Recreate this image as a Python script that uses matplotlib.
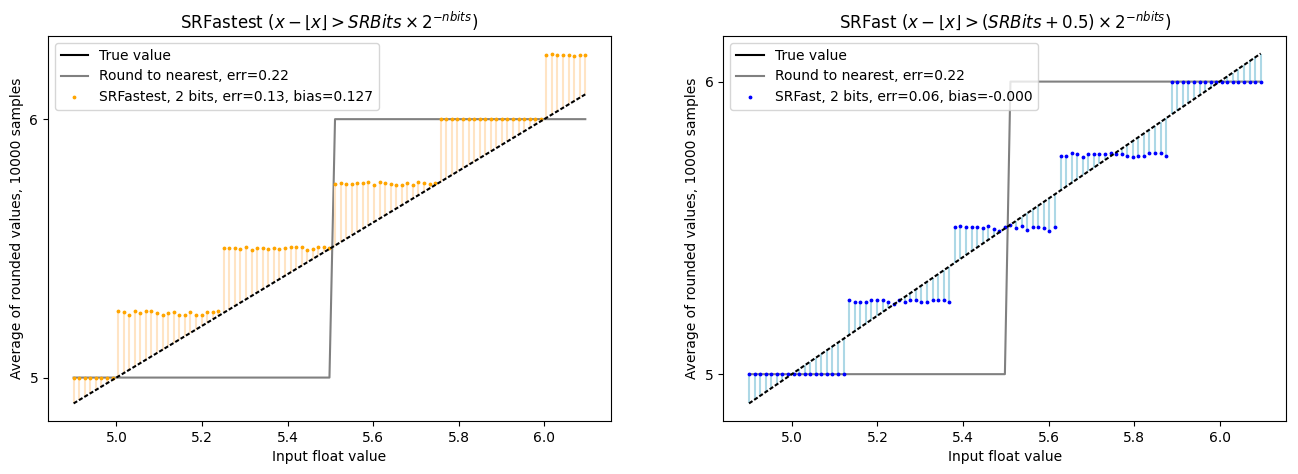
import matplotlib.pyplot as plt
from matplotlib.lines import Line2D

# input grid
x = [4.900, 4.913, 4.926, 4.939, 4.952, 4.965, 4.978, 4.991, 5.004, 5.017,
     5.030, 5.043, 5.056, 5.069, 5.082, 5.095, 5.108, 5.121, 5.134, 5.147,
     5.160, 5.173, 5.186, 5.199, 5.212, 5.225, 5.238, 5.251, 5.264, 5.277,
     5.290, 5.303, 5.316, 5.329, 5.342, 5.355, 5.368, 5.381, 5.394, 5.407,
     5.420, 5.433, 5.446, 5.459, 5.472, 5.485, 5.498, 5.511, 5.524, 5.537,
     5.550, 5.563, 5.576, 5.589, 5.602, 5.615, 5.628, 5.641, 5.654, 5.667,
     5.680, 5.693, 5.706, 5.719, 5.732, 5.745, 5.758, 5.771, 5.784, 5.797,
     5.810, 5.823, 5.836, 5.849, 5.862, 5.875, 5.888, 5.901, 5.914, 5.927,
     5.940, 5.953, 5.966, 5.979, 5.992, 6.005, 6.018, 6.031, 6.044, 6.057,
     6.070, 6.083, 6.096]

nearest = [5] * 47 + [6] * 46

sr_fastest = ([5.0] * 8 +
              [5.256, 5.252, 5.244, 5.256, 5.248, 5.256, 5.256, 5.248, 5.244, 5.248,
               5.252, 5.244, 5.244, 5.252, 5.244, 5.244, 5.252, 5.252, 5.256] +
              [5.500, 5.500, 5.500, 5.496, 5.505, 5.492, 5.500, 5.500, 5.496, 5.500,
               5.496, 5.500, 5.505, 5.505, 5.505, 5.492, 5.496, 5.505, 5.505, 5.500] +
              [5.748, 5.752, 5.748, 5.748, 5.752, 5.752, 5.756, 5.744, 5.756, 5.752,
               5.748, 5.744, 5.744, 5.752, 5.744, 5.756, 5.752, 5.748, 5.752] +
              [6.0] * 19 +
              [6.250, 6.254, 6.250, 6.250, 6.250, 6.246, 6.250, 6.250])

sr_fast = ([5.0] * 18 +
           [5.253, 5.248, 5.248, 5.248, 5.255, 5.252, 5.252, 5.245, 5.241, 5.252,
            5.245, 5.252, 5.252, 5.247, 5.248, 5.255, 5.252, 5.252, 5.248] +
           [5.502, 5.505, 5.502, 5.502, 5.502, 5.498, 5.505, 5.495, 5.490, 5.502,
            5.509, 5.498, 5.505, 5.492, 5.502, 5.502, 5.498, 5.489, 5.502] +
           [5.747, 5.747, 5.755, 5.752, 5.741, 5.752, 5.752, 5.752, 5.752, 5.755,
            5.752, 5.752, 5.747, 5.741, 5.747, 5.745, 5.755, 5.755, 5.755, 5.747] +
           [6.0] * 17)


def panel(ax, sr, dot_color, stem_color, sr_label, title):
    ax.plot(x, nearest, color='gray', lw=1.5, zorder=1)
    ax.vlines(x, x, sr, color=stem_color, lw=1.5, zorder=2)
    ax.plot(x, sr, '.', color=dot_color, ms=3.5, zorder=3)
    ax.plot(x, x, color='k', ls=(0, (2, 1)), lw=1.5, zorder=4)
    handles = [Line2D([], [], color='k', lw=1.5),
               Line2D([], [], color='gray', lw=1.5),
               Line2D([], [], ls='none', marker='.', color=dot_color, ms=3.5)]
    ax.legend(handles, ['True value', 'Round to nearest, err=0.22', sr_label],
              loc='upper left')
    ax.set_yticks([5, 6])
    ax.set_xlabel('Input float value')
    ax.set_ylabel('Average of rounded values, 10000 samples')
    ax.set_title(title)


fig, (ax1, ax2) = plt.subplots(1, 2, figsize=(12.98, 4.74), dpi=100)
panel(ax1, sr_fastest, 'orange', 'bisque',
      'SRFastest, 2 bits, err=0.13, bias=0.127',
      r'SRFastest ($x - \lfloor x \rfloor > SRBits \times 2^{-nbits}$)')
panel(ax2, sr_fast, 'blue', 'lightblue',
      'SRFast, 2 bits, err=0.06, bias=-0.000',
      r'SRFast ($x - \lfloor x \rfloor > (SRBits + 0.5) \times 2^{-nbits}$)')

plt.subplots_adjust(left=0.037, right=0.991, top=0.924, bottom=0.112, wspace=0.2)
plt.savefig('out.png')
